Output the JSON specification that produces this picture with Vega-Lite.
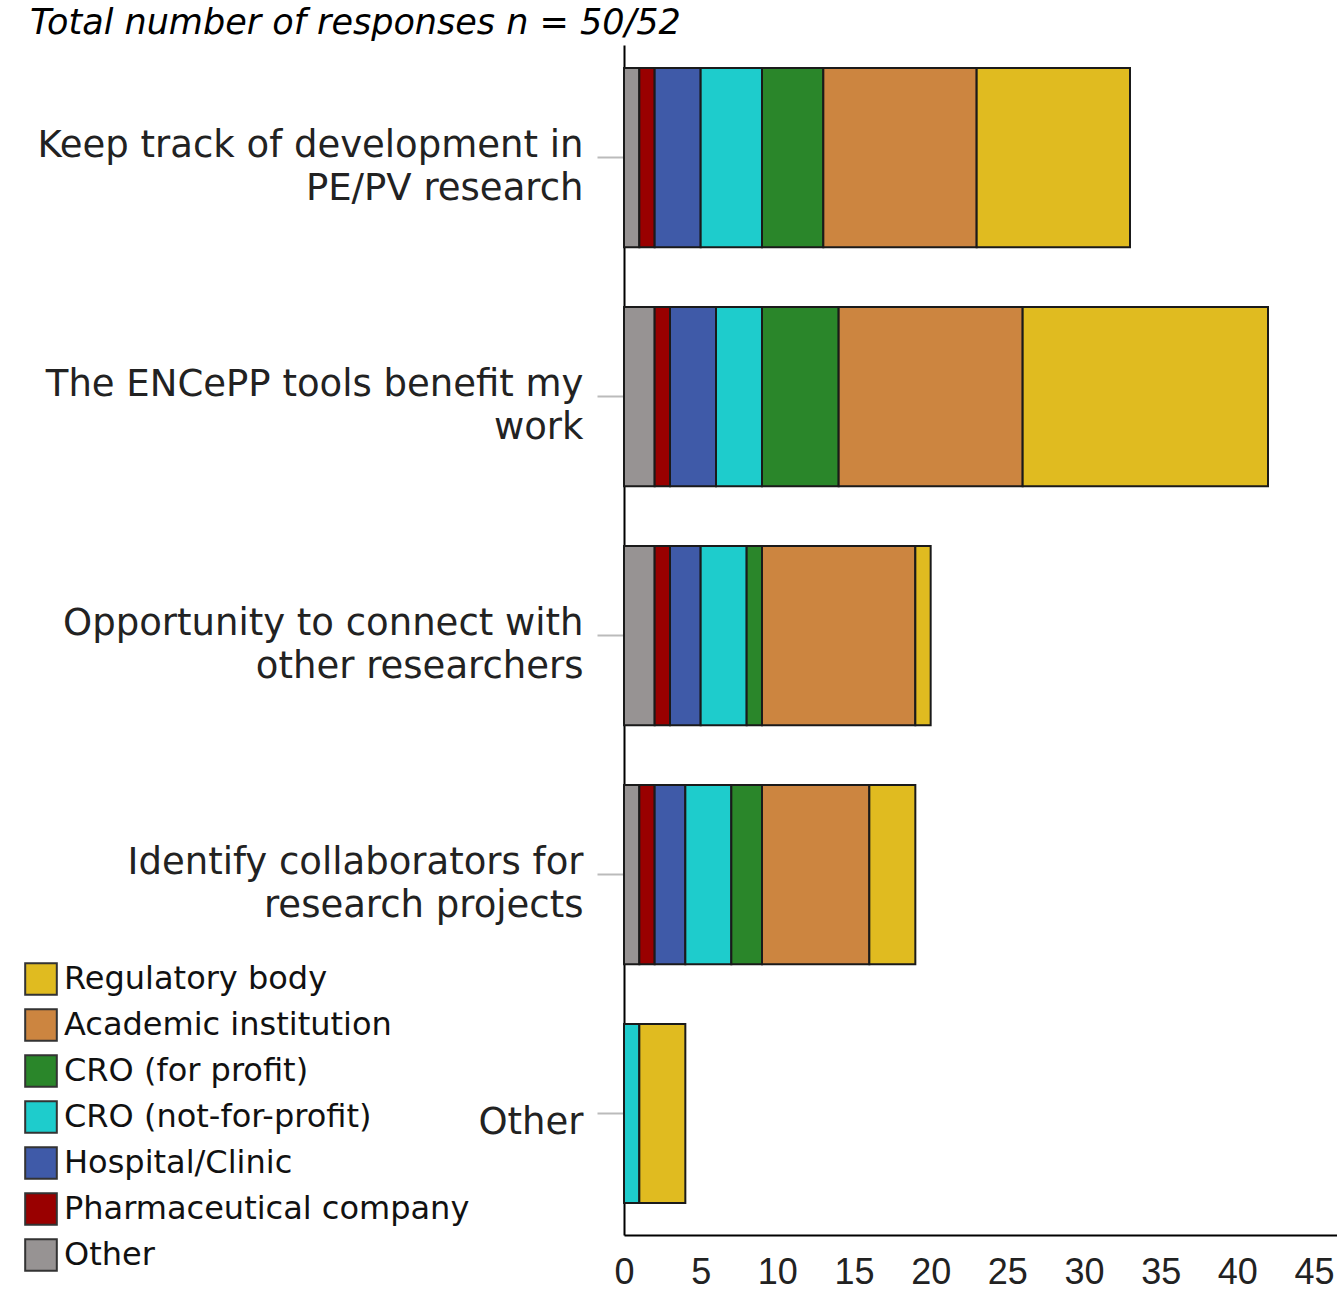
{
  "$schema": "https://vega.github.io/schema/vega-lite/v6.json",
  "autosize": "none",
  "width": 713,
  "height": 1190,
  "padding": {"left": 624, "top": 45, "right": 0, "bottom": 55},
  "background": "white",
  "title": {
    "text": "Total number of responses n = 50/52",
    "anchor": "start",
    "frame": "group",
    "dx": -594,
    "offset": 4,
    "font": "DejaVu Sans",
    "fontStyle": "italic",
    "fontWeight": "normal",
    "fontSize": 35,
    "color": "black"
  },
  "data": {
    "values": [
      {"task": "Keep track of development in PE/PV research", "group": "Other", "n": 1},
      {"task": "Keep track of development in PE/PV research", "group": "Pharmaceutical company", "n": 1},
      {"task": "Keep track of development in PE/PV research", "group": "Hospital/Clinic", "n": 3},
      {"task": "Keep track of development in PE/PV research", "group": "CRO (not-for-profit)", "n": 4},
      {"task": "Keep track of development in PE/PV research", "group": "CRO (for profit)", "n": 4},
      {"task": "Keep track of development in PE/PV research", "group": "Academic institution", "n": 10},
      {"task": "Keep track of development in PE/PV research", "group": "Regulatory body", "n": 10},
      {"task": "The ENCePP tools benefit my work", "group": "Other", "n": 2},
      {"task": "The ENCePP tools benefit my work", "group": "Pharmaceutical company", "n": 1},
      {"task": "The ENCePP tools benefit my work", "group": "Hospital/Clinic", "n": 3},
      {"task": "The ENCePP tools benefit my work", "group": "CRO (not-for-profit)", "n": 3},
      {"task": "The ENCePP tools benefit my work", "group": "CRO (for profit)", "n": 5},
      {"task": "The ENCePP tools benefit my work", "group": "Academic institution", "n": 12},
      {"task": "The ENCePP tools benefit my work", "group": "Regulatory body", "n": 16},
      {"task": "Opportunity to connect with other researchers", "group": "Other", "n": 2},
      {"task": "Opportunity to connect with other researchers", "group": "Pharmaceutical company", "n": 1},
      {"task": "Opportunity to connect with other researchers", "group": "Hospital/Clinic", "n": 2},
      {"task": "Opportunity to connect with other researchers", "group": "CRO (not-for-profit)", "n": 3},
      {"task": "Opportunity to connect with other researchers", "group": "CRO (for profit)", "n": 1},
      {"task": "Opportunity to connect with other researchers", "group": "Academic institution", "n": 10},
      {"task": "Opportunity to connect with other researchers", "group": "Regulatory body", "n": 1},
      {"task": "Identify collaborators for research projects", "group": "Other", "n": 1},
      {"task": "Identify collaborators for research projects", "group": "Pharmaceutical company", "n": 1},
      {"task": "Identify collaborators for research projects", "group": "Hospital/Clinic", "n": 2},
      {"task": "Identify collaborators for research projects", "group": "CRO (not-for-profit)", "n": 3},
      {"task": "Identify collaborators for research projects", "group": "CRO (for profit)", "n": 2},
      {"task": "Identify collaborators for research projects", "group": "Academic institution", "n": 7},
      {"task": "Identify collaborators for research projects", "group": "Regulatory body", "n": 3},
      {"task": "Other", "group": "CRO (not-for-profit)", "n": 1},
      {"task": "Other", "group": "Regulatory body", "n": 3}
    ]
  },
  "transform": [
    {"calculate": "indexof(['Other', 'Pharmaceutical company', 'Hospital/Clinic', 'CRO (not-for-profit)', 'CRO (for profit)', 'Academic institution', 'Regulatory body'], datum.group)", "as": "stackIndex"}
  ],
  "mark": {"type": "bar", "stroke": "#1a1a1a", "strokeWidth": 2},
  "encoding": {
    "y": {
      "field": "task",
      "type": "nominal",
      "sort": null,
      "scale": {"paddingInner": 0.25, "paddingOuter": 0.115, "align": 0.42},
      "axis": {
        "title": null,
        "domainColor": "black",
        "domainWidth": 2,
        "tickColor": "#bbbbbb",
        "tickWidth": 2,
        "tickSize": 27,
        "labelPadding": 14,
        "labelFont": "DejaVu Sans",
        "labelFontSize": 37,
        "labelColor": "#222222",
        "labelLineHeight": 43,
        "labelLimit": 700,
        "labelOffset": {"condition": {"test": "datum.label == 'Other'", "value": 9}, "value": -12},
        "labelExpr": "datum.label == 'Keep track of development in PE/PV research' ? ['Keep track of development in', 'PE/PV research'] : datum.label == 'The ENCePP tools benefit my work' ? ['The ENCePP tools benefit my', 'work'] : datum.label == 'Opportunity to connect with other researchers' ? ['Opportunity to connect with', 'other researchers'] : datum.label == 'Identify collaborators for research projects' ? ['Identify collaborators for', 'research projects'] : datum.label"
      }
    },
    "x": {
      "field": "n",
      "type": "quantitative",
      "stack": "zero",
      "scale": {"domain": [0, 46.5], "nice": false},
      "axis": {
        "title": null,
        "values": [0, 5, 10, 15, 20, 25, 30, 35, 40, 45],
        "grid": false,
        "ticks": false,
        "domainColor": "black",
        "domainWidth": 2,
        "labelPadding": 20,
        "labelFont": "Liberation Sans",
        "labelFontSize": 36,
        "labelColor": "#222222",
        "labelFlush": false,
        "labelOverlap": false
      }
    },
    "order": {"field": "stackIndex", "type": "quantitative"},
    "color": {
      "field": "group",
      "type": "nominal",
      "scale": {
        "domain": ["Regulatory body", "Academic institution", "CRO (for profit)", "CRO (not-for-profit)", "Hospital/Clinic", "Pharmaceutical company", "Other"],
        "range": ["#E0BB20", "#CC8540", "#2A862A", "#1ECCCC", "#3F5AA8", "#990000", "#979393"]
      },
      "legend": {
        "title": null,
        "orient": "none",
        "legendX": -600,
        "legendY": 917,
        "symbolType": "square",
        "symbolSize": 1000,
        "symbolStrokeColor": "#333333",
        "symbolStrokeWidth": 2,
        "symbolOpacity": 1,
        "labelFont": "DejaVu Sans",
        "labelFontSize": 32,
        "labelColor": "#111111",
        "labelOffset": 6,
        "labelLimit": 600,
        "rowPadding": 6
      }
    }
  },
  "config": {"view": {"stroke": null}}
}
